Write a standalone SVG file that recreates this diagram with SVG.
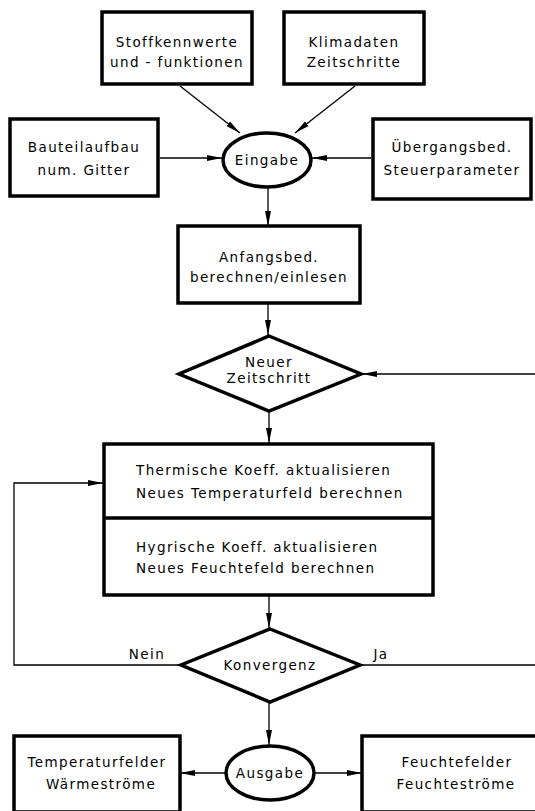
<svg xmlns="http://www.w3.org/2000/svg" width="535" height="811" viewBox="0 0 535 811">
<defs>
<marker id="ah" viewBox="0 0 15 8" refX="15" refY="4" markerWidth="15" markerHeight="8" markerUnits="userSpaceOnUse" orient="auto">
<path d="M0,1 L15,4 L0,7 Z" fill="#000"/>
</marker>
</defs>
<style>
.n{fill:#fff;stroke:#000;stroke-width:3.5}
.t{font-family:"DejaVu Sans","Liberation Sans",sans-serif;font-size:13.5px;letter-spacing:1.4px;fill:#000;text-anchor:middle}
.l{text-anchor:start}
.c{fill:none;stroke:#000;stroke-width:1.3}
</style>
<rect width="535" height="811" fill="#fff"/>
<g id="connectors">
<line class="c" x1="180" y1="86" x2="240" y2="133" marker-end="url(#ah)"/>
<line class="c" x1="355" y1="86" x2="295" y2="133" marker-end="url(#ah)"/>
<line class="c" x1="160" y1="158" x2="222" y2="158" marker-end="url(#ah)"/>
<line class="c" x1="371" y1="158" x2="312" y2="158" marker-end="url(#ah)"/>
<line class="c" x1="268" y1="188" x2="268" y2="226" marker-end="url(#ah)"/>
<line class="c" x1="268" y1="303" x2="268" y2="335" marker-end="url(#ah)"/>
<line class="c" x1="535" y1="374" x2="362" y2="374" marker-end="url(#ah)"/>
<line class="c" x1="269" y1="411" x2="269" y2="443" marker-end="url(#ah)"/>
<polyline class="c" points="180,665 14,665 14,483 103,483" marker-end="url(#ah)"/>
<line class="c" x1="269" y1="595" x2="269" y2="628" marker-end="url(#ah)"/>
<line class="c" x1="360" y1="665" x2="535" y2="665"/>
<line class="c" x1="269" y1="702" x2="269" y2="745" marker-end="url(#ah)"/>
<line class="c" x1="225" y1="773" x2="180" y2="773" marker-end="url(#ah)"/>
<line class="c" x1="315" y1="773" x2="362" y2="773" marker-end="url(#ah)"/>
<text class="t" x="147" y="659">Nein</text>
<text class="t" x="381" y="659">Ja</text>
</g>
<g id="stoff">
<rect class="n" x="102" y="12" width="150" height="72"/>
<text class="t" x="177" y="47">Stoffkennwerte</text>
<text class="t" x="177" y="67">und - funktionen</text>
</g>
<g id="klima">
<rect class="n" x="284" y="12" width="140" height="72"/>
<text class="t" x="354" y="47">Klimadaten</text>
<text class="t" x="354" y="67">Zeitschritte</text>
</g>
<g id="bauteil">
<rect class="n" x="10" y="119" width="148" height="77"/>
<text class="t" x="84" y="152">Bauteilaufbau</text>
<text class="t" x="84" y="175">num. Gitter</text>
</g>
<g id="uebergang">
<rect class="n" x="373" y="119" width="158" height="80"/>
<text class="t" x="452" y="152">Übergangsbed.</text>
<text class="t" x="452" y="175">Steuerparameter</text>
</g>
<g id="eingabe">
<ellipse class="n" cx="267" cy="160" rx="44" ry="27"/>
<text class="t" x="267" y="165">Eingabe</text>
</g>
<g id="anfang">
<rect class="n" x="178" y="226" width="182" height="77"/>
<text class="t" x="269" y="262">Anfangsbed.</text>
<text class="t" x="269" y="282">berechnen/einlesen</text>
</g>
<g id="zeitschritt">
<polygon class="n" points="269,336 361,374 269,411 179,374"/>
<text class="t" x="269" y="367">Neuer</text>
<text class="t" x="269" y="383">Zeitschritt</text>
</g>
<g id="berechnung">
<rect class="n" x="104" y="444" width="329" height="151"/>
<line stroke="#000" stroke-width="3.5" x1="104" y1="518" x2="433" y2="518"/>
<text class="t l" x="136" y="475">Thermische Koeff. aktualisieren</text>
<text class="t l" x="136" y="498">Neues Temperaturfeld berechnen</text>
<text class="t l" x="136" y="552">Hygrische Koeff. aktualisieren</text>
<text class="t l" x="136" y="573">Neues Feuchtefeld berechnen</text>
</g>
<g id="konvergenz">
<polygon class="n" points="270,629 360,665 270,702 181,665"/>
<text class="t" x="270" y="670">Konvergenz</text>
</g>
<g id="ausgabe">
<ellipse class="n" cx="270" cy="773" rx="44" ry="27"/>
<text class="t" x="270" y="778">Ausgabe</text>
</g>
<g id="temp">
<rect class="n" x="14" y="736" width="166" height="76"/>
<text class="t" x="97" y="767">Temperaturfelder</text>
<text class="t" x="101" y="789">Wärmeströme</text>
</g>
<g id="feuchte">
<rect class="n" x="362" y="736" width="176" height="76"/>
<text class="t" x="457" y="767">Feuchtefelder</text>
<text class="t" x="456" y="789">Feuchteströme</text>
</g>
</svg>
